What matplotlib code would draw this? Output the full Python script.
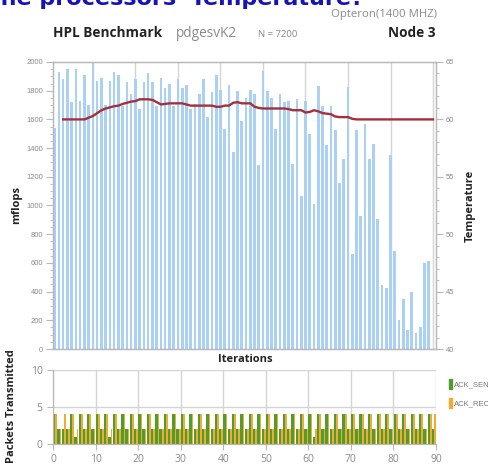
import matplotlib
matplotlib.use("Agg")
import matplotlib.pyplot as plt
from matplotlib.patches import Patch
import numpy as np

# ---------------- data ----------------
bar_iterations = list(range(1, 90))
mflops = [1540, 1930, 1880, 1950, 1720, 1950, 1730, 1910, 1700, 1995,
          1870, 1890, 1700, 1870, 1930, 1910, 1690, 1860, 1780, 1880,
          1670, 1860, 1920, 1860, 1690, 1890, 1820, 1845, 1690, 1880,
          1820, 1840, 1670, 1710, 1780, 1880, 1620, 1790, 1910, 1805,
          1530, 1840, 1370, 1795, 1590, 1750, 1805, 1775, 1280, 1935,
          1795, 1750, 1530, 1775, 1720, 1725, 1290, 1745, 1065, 1730,
          1495, 1010, 1835, 1695, 1420, 1695, 1525, 1160, 1325, 1825,
          660, 1525, 925, 1565, 1325, 1430, 905, 445, 425, 1350,
          680, 205, 350, 130, 395, 110, 155, 600, 615]

temp_iterations = list(range(3, 91))
temperature = [60.0, 60.0, 60.0, 60.0, 60.0, 60.0, 60.15, 60.3, 60.55, 60.8,
               60.95, 61.05, 61.15, 61.2, 61.35, 61.45, 61.55, 61.6, 61.75, 61.75,
               61.75, 61.7, 61.5, 61.3, 61.35, 61.4, 61.4, 61.4, 61.4, 61.3,
               61.2, 61.2, 61.2, 61.2, 61.2, 61.2, 61.1, 61.1, 61.2, 61.2,
               61.45, 61.5, 61.4, 61.4, 61.4, 61.1, 61.0, 60.95, 60.95, 60.95,
               60.95, 60.95, 60.95, 60.9, 60.8, 60.8, 60.8, 60.6, 60.65, 60.8,
               60.7, 60.55, 60.5, 60.45, 60.25, 60.2, 60.2, 60.2, 60.05, 60.0,
               60.0, 60.0, 60.0, 60.0, 60.0, 60.0, 60.0, 60.0, 60.0, 60.0,
               60.0, 60.0, 60.0, 60.0, 60.0, 60.0, 60.0, 60.0]

packet_iterations = list(range(0, 90))
ack_send = [4, 2, 2, 2, 4, 1, 4, 2, 4, 2, 4, 2, 4, 1, 4, 2, 4, 2, 4, 2,
            4, 2, 4, 2, 4, 2, 4, 2, 4, 2, 4, 2, 4, 2, 4, 2, 4, 2, 4, 2,
            4, 2, 4, 2, 4, 2, 4, 2, 4, 2, 4, 2, 4, 2, 4, 2, 4, 2, 4, 2,
            4, 1, 4, 2, 4, 2, 4, 2, 4, 2, 4, 2, 4, 2, 4, 2, 4, 2, 4, 2,
            4, 2, 4, 2, 4, 2, 4, 2, 4, 2]
ack_recv = [4, 2, 4, 2, 4, 2, 4, 2, 4, 2, 4, 2, 4, 2, 4, 2, 4, 2, 4, 2,
            4, 2, 4, 2, 4, 2, 4, 2, 4, 2, 4, 2, 4, 2, 4, 2, 4, 2, 4, 2,
            4, 2, 4, 2, 4, 2, 4, 2, 4, 2, 4, 2, 4, 2, 4, 2, 4, 2, 4, 2,
            4, 2, 4, 2, 4, 2, 4, 2, 4, 2, 4, 2, 4, 2, 4, 2, 4, 2, 4, 2,
            4, 2, 4, 2, 4, 2, 4, 2, 4, 4]

# ---------------- style ----------------
W, H = 489, 466
BAR_BLUE = "#aad0f3"
LINE_RED = "#a3303a"
GREEN = "#4f9e2c"
ORANGE = "#f3a935"
GRID = "#d4d4d4"
SPINE = "#b8b8b8"
TICKC = "#8a8a8a"
SMALL = ["Liberation Sans Narrow", "Liberation Sans", "DejaVu Sans"]
BODY = ["Open Sans", "DejaVu Sans"]

fig = plt.figure(figsize=(W / 100, H / 100), dpi=100)
fig.patch.set_facecolor("white")


def fx(px):
    return px / W


def fy(py):
    return 1 - py / H


# ---------------- top chart ----------------
ax1 = fig.add_axes([fx(53), fy(349), fx(436 - 53), (349 - 62) / H])
ax1.bar(bar_iterations, mflops, width=0.6, color=BAR_BLUE, zorder=2)
ax1.set_xlim(0.6, 90.7)
ax1.set_ylim(0, 2000)
ax1.set_xticks(range(10, 91, 10))
ax1.set_xticklabels([])
ax1.tick_params(axis="x", length=0)
ax1.grid(axis="x", color=GRID, linewidth=1.0, zorder=0)
ax1.set_axisbelow(True)
ax1.set_yticks(range(0, 2001, 200))
ax1.set_yticks(range(0, 2001, 50), minor=True)
ax1.tick_params(axis="y", which="major", length=5, color=SPINE, labelcolor=TICKC,
                labelsize=5.5, pad=2)
ax1.tick_params(axis="y", which="minor", length=2.5, color=SPINE)
for lab in ax1.get_yticklabels():
    lab.set_family(SMALL)
for s in ax1.spines.values():
    s.set_color(SPINE)
    s.set_linewidth(0.9)
ax1.set_ylabel("mflops", fontsize=8, fontweight="bold", family=BODY, color="#222222")
ax1.yaxis.set_label_coords(fx(22 - 53) / fx(436 - 53), 0.5)

ax2 = ax1.twinx()
ax2.plot(temp_iterations, temperature, color=LINE_RED, linewidth=1.7, zorder=3)
ax2.set_ylim(40, 65)
ax2.set_yticks(range(40, 66, 5))
ax2.set_yticks(range(40, 66, 1), minor=True)
ax2.tick_params(axis="y", which="major", length=5, color=SPINE, labelcolor=TICKC,
                labelsize=5.5, pad=2)
ax2.tick_params(axis="y", which="minor", length=2.5, color=SPINE)
for lab in ax2.get_yticklabels():
    lab.set_family(SMALL)
for s in ax2.spines.values():
    s.set_color(SPINE)
    s.set_linewidth(0.9)
ax2.set_ylabel("Temperature", fontsize=8, fontweight="bold", family=BODY,
               color="#222222", rotation=90)
ax2.yaxis.set_label_coords((465 - 53) / (436 - 53), 0.5)

# ---------------- bottom chart ----------------
ax3 = fig.add_axes([fx(53), fy(444), fx(436 - 53), (444 - 370) / H])
px = np.array(packet_iterations, dtype=float)
ax3.bar(px + 0.02, ack_send, width=0.55, align="edge", color=GREEN, zorder=2)
ax3.bar(px + 0.57, ack_recv, width=0.4, align="edge", color=ORANGE, zorder=2)
ax3.set_xlim(0, 90)
ax3.set_ylim(0, 10)
ax3.set_xticks(range(0, 91, 10))
ax3.set_yticks([0, 5, 10])
ax3.grid(True, color=GRID, linewidth=1.0, zorder=0)
ax3.set_axisbelow(True)
ax3.tick_params(axis="both", length=4, color=SPINE, labelcolor=TICKC, labelsize=7.5)
for lab in ax3.get_xticklabels() + ax3.get_yticklabels():
    lab.set_family(BODY)
for s in ax3.spines.values():
    s.set_color(SPINE)
    s.set_linewidth(0.9)
ax3.spines["top"].set_visible(False)
ax3.spines["right"].set_visible(False)
ax3.set_ylabel("Packets Transmitted", fontsize=8, fontweight="bold", family=BODY,
               color="#222222")
ax3.yaxis.set_label_coords((17 - 53) / (436 - 53), (444 - 406) / (444 - 370))

leg = ax3.legend(handles=[Patch(color=GREEN), Patch(color=ORANGE)],
                 labels=["ACK_SEND", "ACK_RECV"], loc="upper left",
                 bbox_to_anchor=(fx(446), fy(376)), bbox_transform=fig.transFigure,
                 frameon=False, handlelength=0.35, handleheight=1.6,
                 handletextpad=0.3, labelspacing=1.2, borderaxespad=0,
                 prop={"family": SMALL, "size": 5.5})
for t in leg.get_texts():
    t.set_color("#777777")

# ---------------- header texts ----------------
fig.text(fx(364), fy(5), "the processors' Temperature?", ha="right", va="baseline",
         fontsize=16, fontweight="bold", color="#1414b8", family="DejaVu Sans")
fig.text(fx(437), fy(17), "Opteron(1400 MHZ)", ha="right", va="baseline",
         fontsize=8.2, color="#8a8a8a", family=BODY)
fig.text(fx(53), fy(37), "HPL Benchmark", ha="left", va="baseline",
         fontsize=9.8, fontweight="bold", color="#222222", family=BODY)
fig.text(fx(176), fy(37), "pdgesvK2", ha="left", va="baseline",
         fontsize=9.8, color="#8a8a8a", family=BODY)
fig.text(fx(258), fy(37), "N = 7200", ha="left", va="baseline",
         fontsize=6.8, color="#8a8a8a", family=BODY)
fig.text(fx(436), fy(37), "Node 3", ha="right", va="baseline",
         fontsize=9.8, fontweight="bold", color="#222222", family=BODY)
fig.text(fx(245), fy(362), "Iterations", ha="center", va="baseline",
         fontsize=8, fontweight="bold", color="#222222", family=BODY)

fig.savefig("out.png", dpi=100)
